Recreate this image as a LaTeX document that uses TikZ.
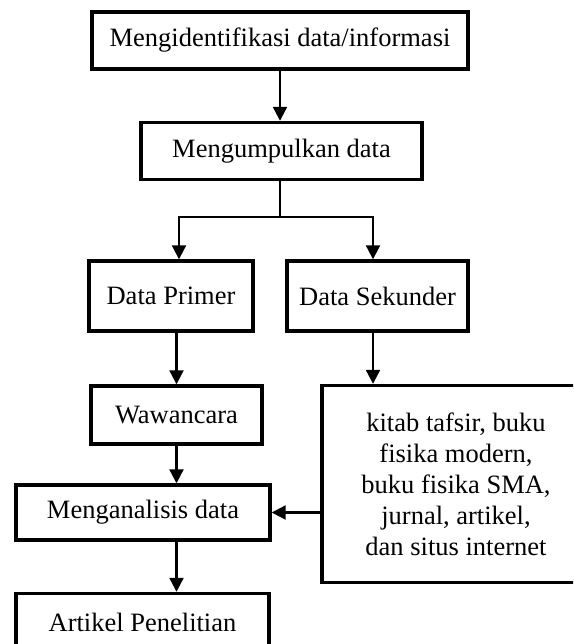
\documentclass[tikz,border=0pt]{standalone}
\usepackage{fontspec}
\setmainfont{Liberation Serif}[Ligatures=NoCommon]
\usetikzlibrary{arrows.meta}
\tikzset{
  box/.style={draw=black, line width=3.4pt, rectangle, inner sep=0pt,
    font=\fontsize{26.5}{31}\selectfont, align=center},
  conn/.style={draw=black, line width=2.2pt},
  arr/.style={conn, -{Triangle[length=14pt,width=14pt]}}
}
\begin{document}
\begin{tikzpicture}[x=1pt,y=-1pt]
\useasboundingbox (0,0) rectangle (573,644);
\clip (0,0) rectangle (573,644);
\fill[white] (0,0) rectangle (573,644);
\node[box, minimum width=376, minimum height=57] (n1) at (280,40.5) {Mengidentifikasi data/informasi};
\node[box, minimum width=281, minimum height=57] (n2) at (281.5,151) {Mengumpulkan data};
\node[box, minimum width=164, minimum height=70] (dp) at (171,296) {Data Primer};
\node[box, minimum width=181, minimum height=70] (ds) at (377.5,296) {Data Sekunder};
\node[box, minimum width=171, minimum height=58] (ww) at (176.5,415) {Wawancara};
\node[box, minimum width=268, minimum height=197] (big) at (456,484) {kitab tafsir, buku\\fisika modern,\\buku fisika SMA,\\jurnal, artikel,\\dan situs internet};
\node[box, minimum width=254, minimum height=55] (ma) at (143,512.5) {Menganalisis data};
\node[box, minimum width=253, minimum height=57] (ar) at (142.5,622) {Artikel Penelitian};
\coordinate (br) at (280,217);
\coordinate (bl) at (179,217);
\coordinate (brr) at (373,217);
\draw[arr] (n1.south -| br) -- (br |- n2.north);
\draw[conn] (br |- n2.south) -- (br);
\draw[conn] ([xshift=-1]bl) -- ([xshift=1]brr);
\draw[arr] (bl) -- (bl |- dp.north);
\draw[arr] (brr) -- (brr |- ds.north);
\draw[arr] (ww.north |- dp.south) -- (ww.north);
\draw[arr] (brr |- ds.south) -- (brr |- big.north);
\draw[arr] (ww.south) -- (ww.south |- ma.north);
\draw[arr] (big.west |- ma.east) -- (ma.east);
\draw[arr] (ww.south |- ma.south) -- (ww.south |- ar.north);
\end{tikzpicture}
\end{document}
